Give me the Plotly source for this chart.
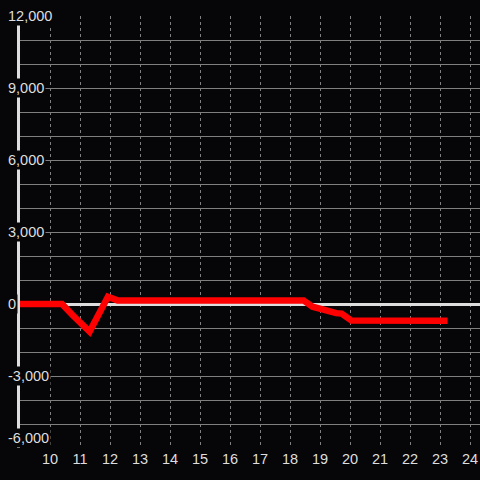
import plotly.graph_objects as go

BG = "#060608"
GRID = "#7f7f7f"
AXIS = "#dedede"
RED = "#ff0000"

# series
x_vals = [9, 10.4, 10.75, 11.32, 11.93, 12.25, 18.45, 18.75, 19.54, 19.72, 20.05, 23.25]
y_vals = [0, 0, -460, -1150, 300, 150, 150, -110, -380, -400, -690, -700]

x_ticks = list(range(10, 25))
y_ticks = [12000, 9000, 6000, 3000, 0, -3000, -6000]
y_labels = ["12,000", "9,000", "6,000", "3,000", "0", "-3,000", "-6,000"]

fig = go.Figure()
fig.add_trace(go.Scatter(x=x_vals, y=y_vals, mode="lines",
                         line=dict(color=RED, width=6.5), cliponaxis=False))

# y tick labels sit over the axis line with a dark box behind them
for v, lab in zip(y_ticks, y_labels):
    fig.add_annotation(x=-0.03, xref="paper", y=v, yref="y", text=lab,
                       showarrow=False, xanchor="left",
                       yanchor="bottom" if v == y_ticks[-1] else "middle",
                       bgcolor=BG, borderpad=1,
                       font=dict(family="Liberation Sans, Arial", size=14.5, color=AXIS))

fig.update_layout(
    width=480, height=480,
    margin=dict(l=20, r=0, t=16, b=32),
    paper_bgcolor=BG, plot_bgcolor=BG,
    showlegend=False,
    font=dict(family="Liberation Sans, Arial", size=14.5, color=AXIS),
    xaxis=dict(range=[9, 9 + 460 / 30], tickvals=x_ticks,
               showgrid=True, gridcolor=GRID, gridwidth=1, griddash="3px,3px",
               zeroline=False, showline=False, ticks="",
               tickfont=dict(size=14.5, color=AXIS)),
    yaxis=dict(range=[-6000, 12000], dtick=1000, tick0=0,
               showgrid=True, gridcolor=GRID, gridwidth=1,
               zeroline=True, zerolinecolor=AXIS, zerolinewidth=3,
               showline=True, linecolor=AXIS, linewidth=3, layer="below traces",
               showticklabels=False, ticks=""),
)

fig.write_html("out.html", config={"displayModeBar": False},
               post_script="document.body.style.margin='0';")
